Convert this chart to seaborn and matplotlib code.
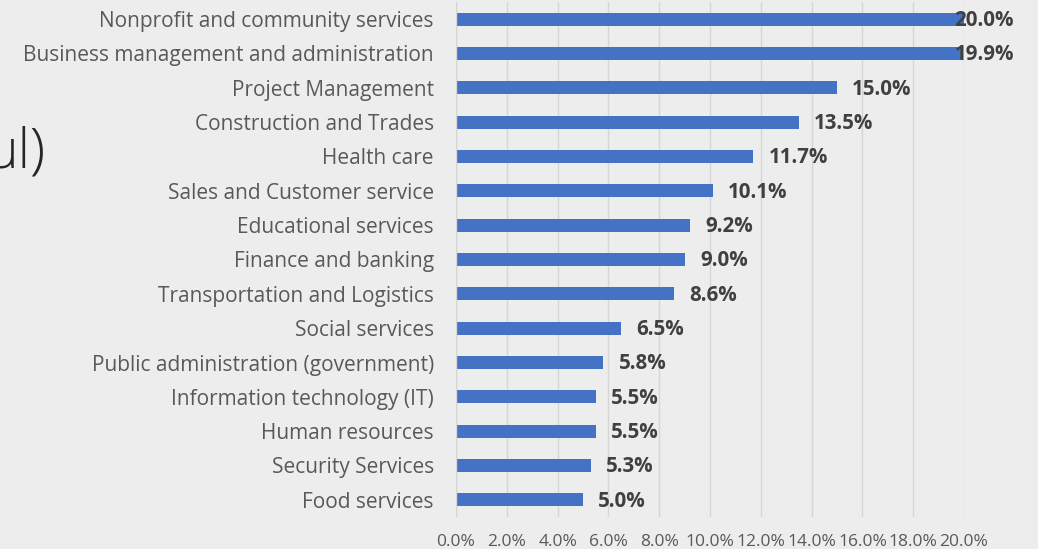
import matplotlib
matplotlib.use("Agg")
import matplotlib.pyplot as plt
import seaborn as sns
import pandas as pd

categories = [
    "Nonprofit and community services",
    "Business management and administration",
    "Project Management",
    "Construction and Trades",
    "Health care",
    "Sales and Customer service",
    "Educational services",
    "Finance and banking",
    "Transportation and Logistics",
    "Social services",
    "Public administration (government)",
    "Information technology (IT)",
    "Human resources",
    "Security Services",
    "Food services",
]
shares = [20.0, 19.9, 15.0, 13.5, 11.7, 10.1, 9.2, 9.0, 8.6, 6.5, 5.8, 5.5, 5.5, 5.3, 5.0]
x_ticks = [0, 2, 4, 6, 8, 10, 12, 14, 16, 18, 20]

df = pd.DataFrame({"category": categories, "share": shares})

sns.set_theme(style="white")
plt.rcParams["font.family"] = ["Open Sans", "DejaVu Sans"]

bg = "#EDEDED"
fig = plt.figure(figsize=(10.38, 5.49), dpi=100, facecolor=bg)
ax = fig.add_axes([456 / 1038, 1 - 517 / 549, (964 - 456) / 1038, 515 / 549])
ax.set_facecolor(bg)

sns.barplot(data=df, x="share", y="category", orient="h", color="#4472C4",
            width=0.38, saturation=1, linewidth=0, edgecolor="none",
            ax=ax, zorder=3)

ax.set_xlim(0, 20)
ax.set_ylim(len(categories) - 0.5, -0.5)
ax.set_xticks(x_ticks)
ax.set_xticklabels([f"{t:.1f}%" for t in x_ticks], color="#595959", fontsize=12.5)
ax.tick_params(axis="x", length=0, pad=12.5)
ax.tick_params(axis="y", length=0, pad=16, labelsize=15, labelcolor="#595959")
ax.set_xlabel("")
ax.set_ylabel("")
ax.grid(axis="x", color="#D6D6D6", linewidth=1, zorder=0)
for s in ax.spines.values():
    s.set_visible(False)
ax.axvline(0, color="#D6D6D6", linewidth=1, zorder=4)

# value labels; ones that would run past the plot edge are pulled back inside
for i, v in enumerate(shares):
    txt = f"{v:.1f}%"
    if v > 18.5:
        ax.annotate(txt, xy=(1.0, i), xycoords=("axes fraction", "data"),
                    xytext=(36, -1), textcoords="offset points", ha="right",
                    va="center", fontsize=14.8, fontweight="bold",
                    color="#404040", zorder=5)
    else:
        ax.annotate(txt, xy=(v, i), xytext=(11, -1), textcoords="offset points",
                    ha="left", va="center", fontsize=14.8, fontweight="bold",
                    color="#404040", zorder=5)

fig.text(46 / 1038, 1 - 168 / 549, "ul)", ha="right", va="baseline",
         fontsize=40, fontweight="light", color="#262626")

fig.savefig("out.png", dpi=100, facecolor=bg)
